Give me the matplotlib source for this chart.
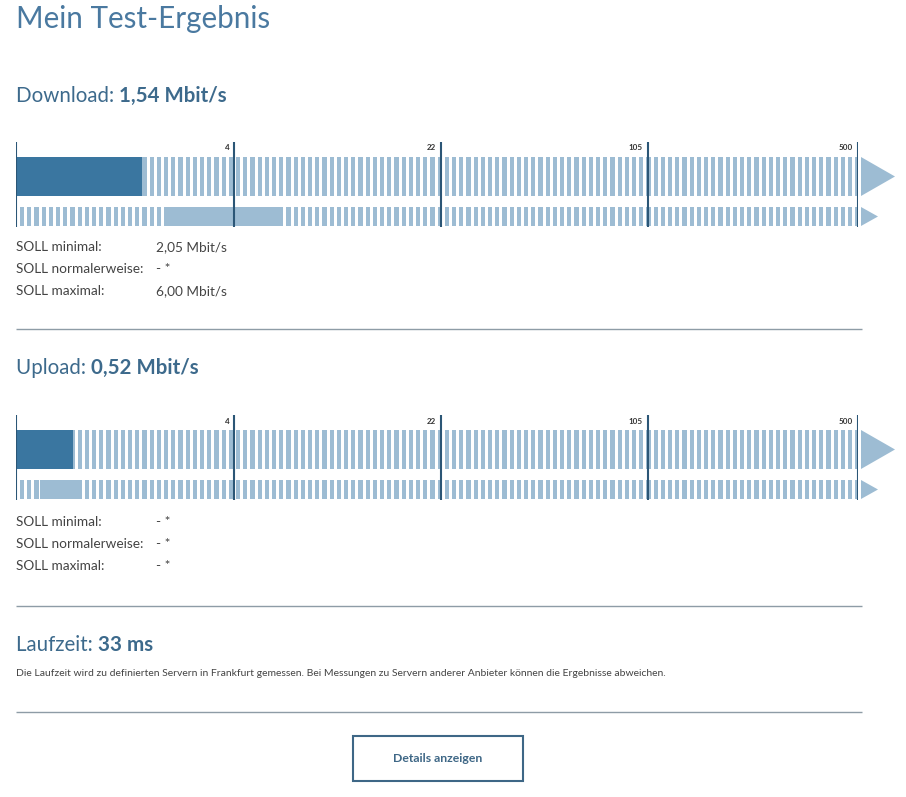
import numpy as np
import matplotlib
matplotlib.use("Agg")
import matplotlib.pyplot as plt
from matplotlib.patches import Rectangle, Polygon

plt.rcParams['font.family'] = ['Lato', 'DejaVu Sans']

# ---------------- data ----------------
title = "Mein Test-Ergebnis"
scale_ticks = [4, 22, 105, 500]
scale_max = 500

download_label = "Download:"
download_value = 1.54
download_text = "1,54 Mbit/s"
download_band = (2.05, 6.00)

upload_label = "Upload:"
upload_value = 0.52
upload_text = "0,52 Mbit/s"
upload_band = (0.19, 0.58)

soll_labels = ["SOLL minimal:", "SOLL normalerweise:", "SOLL maximal:"]
download_soll_values = ["2,05 Mbit/s", "- *", "6,00 Mbit/s"]
upload_soll_values = ["- *", "- *", "- *"]

latency_label = "Laufzeit:"
latency_text = "33 ms"
latency_note = ("Die Laufzeit wird zu definierten Servern in Frankfurt gemessen. "
                "Bei Messungen zu Servern anderer Anbieter können die Ergebnisse abweichen.")
button_label = "Details anzeigen"

# ---------------- styles ----------------
W, H, DPI = 906, 797, 100
C_TITLE = "#4a79a0"
C_HEAD = "#3d6a8c"
C_DARK = "#3a76a0"
C_LIGHT = "#9dbcd3"
C_TICK = "#2b5676"
C_TEXT = "#444444"
C_SEP = "#8e9ca6"
C_BTN = "#3e6786"

fig = plt.figure(figsize=(W / DPI, H / DPI), dpi=DPI)
fig.patch.set_facecolor("white")
bg = fig.add_axes([0, 0, 1, 1])
bg.set_xlim(0, W)
bg.set_ylim(H, 0)
bg.axis("off")


def px_axes(x0, y0, x1, y1):
    return fig.add_axes([x0 / W, 1 - y1 / H, (x1 - x0) / W, (y1 - y0) / H])


def heading(y, label, value):
    t = bg.text(16, y, label + " ", fontsize=14.8, color=C_HEAD, va="center", ha="left")
    bg.annotate(value, xy=(1, 0.5), xycoords=t, va="center", ha="left",
                fontsize=14.8, fontweight="bold", color=C_HEAD)


def meter(top, value, band):
    x0, x1 = 16, 858
    ax = px_axes(x0, top, x1, top + 85)
    ax.set_xscale("function", functions=(np.log1p, np.expm1))
    ax.set_xlim(0, scale_max)
    ax.set_ylim(85, 0)
    ax.axis("off")
    # stripe pattern, evenly spaced in screen space
    t_max = np.log1p(scale_max)
    ppt = (x1 - x0) / t_max
    period, sw = 7.2 / ppt, 4.2 / ppt
    starts = np.arange(4.0 / ppt, t_max - sw * 0.5, period)
    rng = [(np.expm1(s), np.expm1(min(s + sw, t_max)) - np.expm1(s)) for s in starts]
    ax.broken_barh(rng, (15, 39), facecolors=C_LIGHT, lw=0)
    ax.broken_barh(rng, (65, 19), facecolors=C_LIGHT, lw=0)
    # measured value
    ax.barh(34.5, value, left=0, height=39, color=C_DARK, lw=0)
    # target band
    if band is not None:
        ax.barh(74.5, band[1] - band[0], left=band[0], height=19, color=C_LIGHT, lw=0)
    # scale lines
    ax.vlines([0] + scale_ticks, 0, 85, color=C_TICK, lw=1.5)
    for tk in scale_ticks:
        ax.annotate(str(tk), xy=(tk, 6), xytext=(-3.5, 0), textcoords="offset points",
                    ha="right", va="center", fontsize=5.8, fontweight="bold", color="#333333")
    # arrow heads
    bg.add_patch(Polygon([(861, top + 15), (861, top + 54), (895, top + 34.5)],
                         closed=True, color=C_LIGHT, lw=0))
    bg.add_patch(Polygon([(861, top + 65), (861, top + 84), (878, top + 74.5)],
                         closed=True, color=C_LIGHT, lw=0))
    return ax


def soll_rows(y0, values):
    for i, (lab, val) in enumerate(zip(soll_labels, values)):
        y = y0 + 22 * i
        bg.text(16, y, lab, fontsize=9.8, color=C_TEXT, va="center", ha="left")
        bg.text(156, y, val, fontsize=9.8, color=C_TEXT, va="center", ha="left")


# title
bg.text(16, 19, title, fontsize=21.3, color=C_TITLE, va="center", ha="left")

# download
heading(96, download_label, download_text)
meter(142, download_value, download_band)
soll_rows(247, download_soll_values)

# upload
heading(368, upload_label, upload_text)
meter(415, upload_value, upload_band)
soll_rows(522, upload_soll_values)

# separators
bg.hlines([329, 606, 712], 16, 862, color=C_SEP, lw=1)

# latency
heading(645, latency_label, latency_text)
bg.text(16, 674, latency_note, fontsize=7.5, color=C_TEXT, va="center", ha="left")

# button
bg.add_patch(Rectangle((353, 736), 170, 45, fill=False, edgecolor=C_BTN, lw=1.5))
bg.text(438, 758.5, button_label, fontsize=8.8, fontweight="bold", color=C_BTN,
        va="center", ha="center")

fig.savefig("out.png", dpi=DPI, facecolor="white")
